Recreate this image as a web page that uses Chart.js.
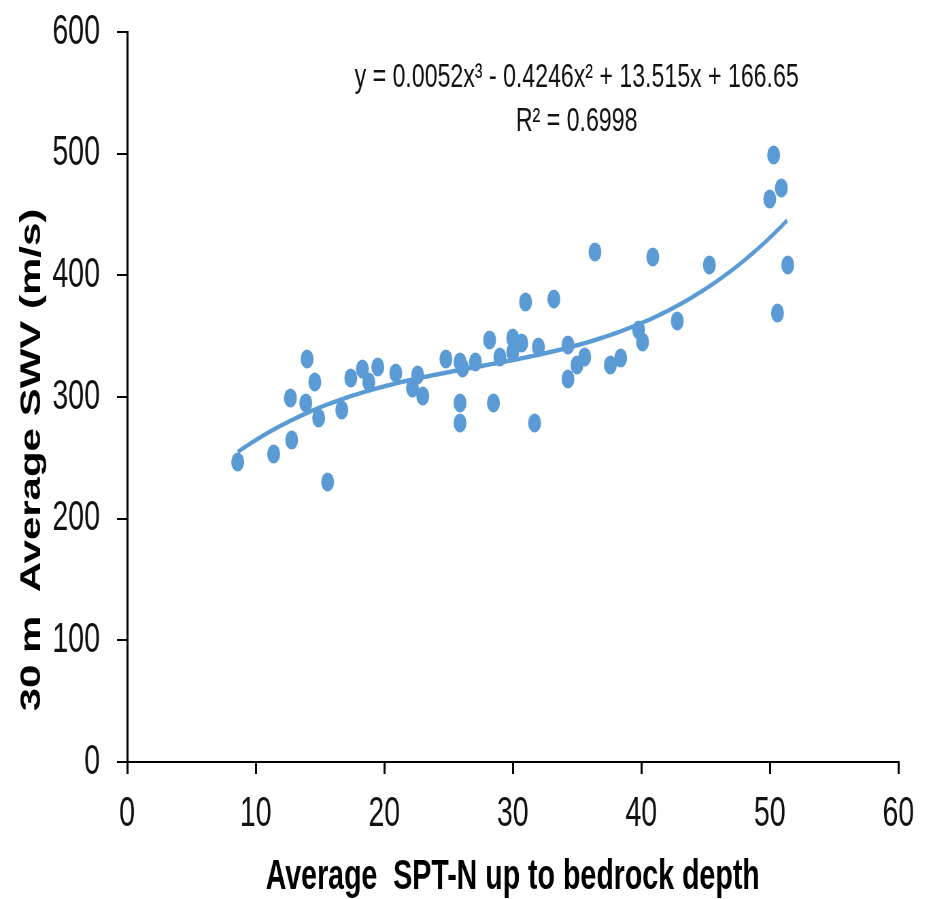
<!DOCTYPE html>
<html>
<head>
<meta charset="utf-8">
<script src="https://cdn.jsdelivr.net/npm/chart.js@4.4.1/dist/chart.umd.min.js"></script>
<style>
    html, body { margin: 0; padding: 0; background: #fff; overflow: hidden; }
    #wrap { width: 925px; height: 899px; overflow: hidden; }
    /* the source picture is squeezed sideways, so draw wide and squeeze */
    #swv-chart { transform: scaleX(0.68); transform-origin: 0 0; }
</style>
</head>
<body>
<div id="wrap"><canvas id="swv-chart" width="1360" height="899"></canvas></div>
<script>
// data
var sptN = [8.6, 11.4, 12.7, 12.8, 14.0, 13.9, 14.6, 14.9, 15.6, 16.7,
            17.4, 18.3, 18.8, 19.5, 20.9, 22.2, 22.6, 23.0, 24.8, 25.9,
            26.1, 25.9, 25.9, 27.1, 28.2, 28.5, 29.0, 30.0, 30.0, 30.7,
            31.0, 31.7, 32.0, 33.2, 34.3, 34.3, 35.0, 35.6, 36.4, 37.6,
            38.4, 39.8, 40.1, 40.9, 42.8, 45.3, 50.3, 50.9, 50.0, 51.4,
            50.6];
var swv = [246.6, 253.2, 299.2, 264.7, 331.2, 295.1, 312.3, 282.7, 230.1, 289.3,
           315.6, 323.0, 312.3, 324.7, 319.8, 307.4, 318.1, 300.8, 331.2, 328.8,
           323.8, 295.1, 278.6, 328.8, 346.8, 295.1, 332.9, 348.5, 337.0, 344.4,
           378.1, 278.6, 341.1, 380.5, 342.7, 314.8, 326.3, 332.9, 419.2, 326.3,
           332.1, 355.1, 345.2, 415.1, 362.5, 408.5, 498.9, 471.8, 462.7, 408.5,
           369.0];
var xTicks = [0, 10, 20, 30, 40, 50, 60];
var yTicks = [0, 100, 200, 300, 400, 500, 600];
var fitCoef = [0.0052, -0.4246, 13.515, 166.65];
var fitText = ["y = 0.0052x\u00B3 - 0.4246x\u00B2 + 13.515x + 166.65", "R\u00B2 = 0.6998"];
var xTitle = "Average  SPT-N up to bedrock depth";
var yTitle = "30 m  Average SWV (m/s)";

var blue = '#5B9BD5';
var fontFam = '"Liberation Sans", Arial, sans-serif';

function BuildTrendPoints() {
    var pts = [];
    var lo = Math.min.apply(null, sptN);
    var hi = Math.max.apply(null, sptN);
    for (var x = lo; x <= hi + 1e-9; x += 0.25) {
        var y = fitCoef[0] * x * x * x + fitCoef[1] * x * x + fitCoef[2] * x + fitCoef[3];
        pts.push({ x: x, y: y });
    }
    return pts;
}

var scatterPts = [];
for (var i = 0; i < sptN.length; i++)
    scatterPts.push({ x: sptN[i], y: swv[i] });

// titles and the fit equation
var textPlugin = {
    id: 'textPlugin',
    afterDraw: function (chart) {
        var ctx = chart.ctx;
        var area = chart.chartArea;
        ctx.save();
        ctx.fillStyle = '#000';
        ctx.textAlign = 'center';
        ctx.textBaseline = 'middle';
        ctx.font = 'bold 42px ' + fontFam;
        ctx.fillText(xTitle, (area.left + area.right) / 2, 877);

        ctx.save();
        ctx.translate(47, 460);
        ctx.rotate(-Math.PI / 2);
        ctx.fillText(yTitle, 0, 0);
        ctx.restore();

        ctx.fillStyle = '#111';
        ctx.font = '34px ' + fontFam;
        ctx.fillText(fitText[0], 848, 78);
        ctx.fillText(fitText[1], 848, 122);
        ctx.restore();
    }
};

var ctx = document.getElementById('swv-chart');
var swvChart = new Chart(ctx, {
    type: 'scatter',
    data: {
        datasets: [{
            label: 'SWV',
            data: scatterPts,
            backgroundColor: blue,
            borderColor: blue,
            pointRadius: 9.5,
            pointBorderWidth: 0,
            order: 1
        }, {
            label: 'Poly. fit',
            type: 'line',
            data: BuildTrendPoints(),
            borderColor: blue,
            borderWidth: 4.5,
            pointRadius: 0,
            fill: false,
            tension: 0,
            order: 2
        }]
    },
    options: {
        responsive: false,
        animation: false,
        devicePixelRatio: 1,
        layout: { padding: { top: 32, right: 39, left: 0, bottom: 0 } },
        plugins: {
            legend: { display: false },
            tooltip: { enabled: false }
        },
        scales: {
            x: {
                type: 'linear',
                min: 0,
                max: 60,
                afterBuildTicks: function (s) { s.ticks = xTicks.map(function (v) { return { value: v }; }); },
                afterFit: function (s) { s.height = 137; },
                grid: { drawOnChartArea: false, drawTicks: true, tickLength: 12, lineWidth: 3, color: '#000' },
                border: { display: true, color: '#000', width: 2 },
                ticks: { color: '#111', font: { family: fontFam, size: 42 }, padding: 15, maxRotation: 0 }
            },
            y: {
                type: 'linear',
                min: 0,
                max: 600,
                afterBuildTicks: function (s) { s.ticks = yTicks.map(function (v) { return { value: v }; }); },
                afterFit: function (s) { s.width = 187; s.paddingTop = 0; s.paddingBottom = 0; },
                grid: { drawOnChartArea: false, drawTicks: true, tickLength: 15, lineWidth: 2, color: '#000' },
                border: { display: true, color: '#000', width: 3 },
                ticks: { color: '#111', font: { family: fontFam, size: 42, lineHeight: 0.5 }, padding: 25 }
            }
        }
    },
    plugins: [textPlugin]
});
</script>
</body>
</html>
